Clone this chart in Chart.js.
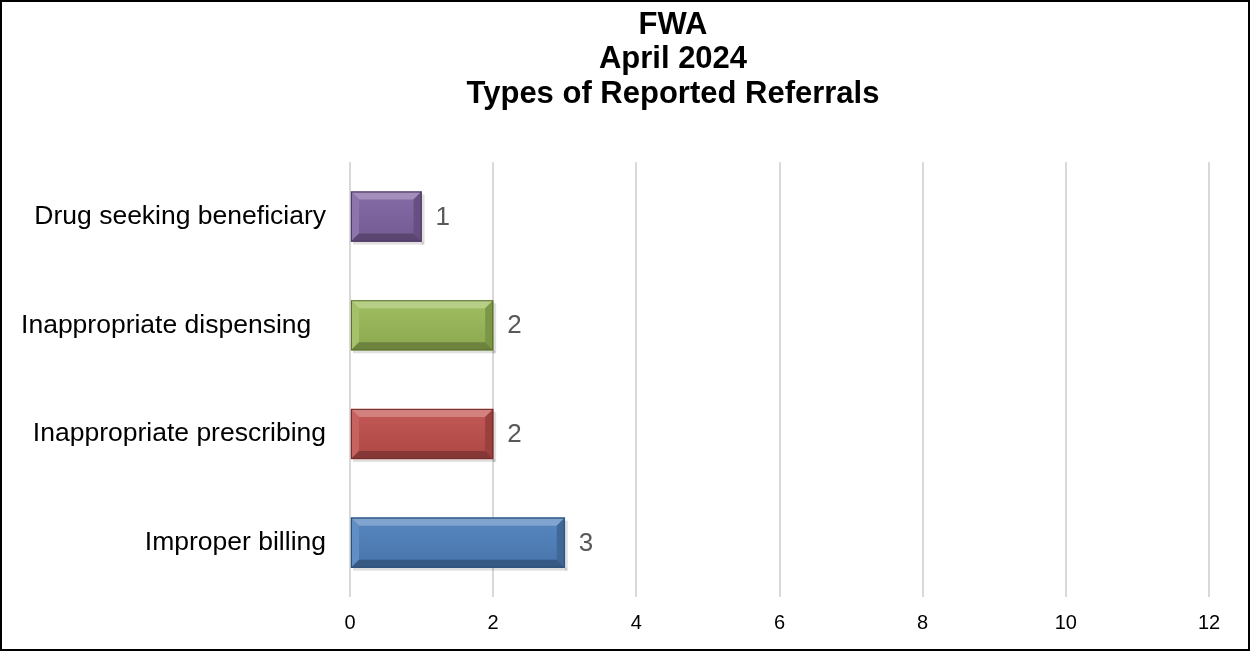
<!DOCTYPE html>
<html>
<head>
<meta charset="utf-8">
<script src="https://cdn.jsdelivr.net/npm/chart.js@4.4.1/dist/chart.umd.min.js"></script>
<style>
    html, body { margin: 0; padding: 0; background: #fff; }
    .frame {
        box-sizing: border-box;
        width: 1250px;
        height: 651px;
        border: 2px solid #000;
        position: relative;
    }
    .frame canvas { display: block; }
</style>
</head>
<body>
<div class="frame">
    <canvas id="fwaChart" width="1246" height="647"></canvas>
</div>
<script>
// Data
const categories = ['Drug seeking beneficiary', 'Inappropriate dispensing  ', 'Inappropriate prescribing', 'Improper billing'];
const referralCounts = [1, 2, 2, 3];
const barColors = ['#8064A2', '#9BBB59', '#C0504D', '#4F81BD'];
const titleLines = ['FWA', 'April 2024', 'Types of Reported Referrals'];
const xTickMax = 12;
const xTickStep = 2;

const FONT = "'Liberation Sans', Arial, sans-serif";

function shade(hex, amt) {
    const n = parseInt(hex.slice(1), 16);
    let r = (n >> 16) & 255, g = (n >> 8) & 255, b = n & 255;
    if (amt >= 0) {
        r = r + (255 - r) * amt; g = g + (255 - g) * amt; b = b + (255 - b) * amt;
    } else {
        r = r * (1 + amt); g = g * (1 + amt); b = b * (1 + amt);
    }
    return `rgb(${Math.round(r)}, ${Math.round(g)}, ${Math.round(b)})`;
}

// the title in the original sits a bit right of the page centre
const titleShift = {
    id: 'titleShift',
    afterLayout(chart) {
        const t = chart.titleBlock;
        if (!t) return;
        t.left = 96;
        t.right = chart.width;
        t.width = t.right - t.left;
    }
};

// bevel look for the bars, drawn over the bar elements' own geometry
const bevelPlugin = {
    id: 'bevel',
    afterDatasetDraw(chart, args) {
        const ctx = chart.ctx;
        args.meta.data.forEach((bar, i) => {
            const base = barColors[i];
            const left = Math.min(bar.base, bar.x), right = Math.max(bar.base, bar.x);
            const top = bar.y - bar.height / 2, bottom = bar.y + bar.height / 2;
            const b = 8;
            ctx.save();
            // soft shadow
            ctx.fillStyle = 'rgba(0,0,0,0.12)';
            ctx.fillRect(left + 2, bottom, right - left, 3);
            ctx.fillRect(right, top + 3, 3, bottom - top);
            // face
            const g = ctx.createLinearGradient(0, top, 0, bottom);
            g.addColorStop(0, shade(base, 0.05));
            g.addColorStop(1, shade(base, -0.1));
            ctx.fillStyle = g;
            ctx.fillRect(left, top, right - left, bottom - top);
            // top bevel
            ctx.fillStyle = shade(base, 0.28);
            ctx.beginPath();
            ctx.moveTo(left, top); ctx.lineTo(right, top);
            ctx.lineTo(right - b, top + b); ctx.lineTo(left + b, top + b);
            ctx.closePath(); ctx.fill();
            // left bevel
            ctx.fillStyle = shade(base, 0.1);
            ctx.beginPath();
            ctx.moveTo(left, top); ctx.lineTo(left + b, top + b);
            ctx.lineTo(left + b, bottom - b); ctx.lineTo(left, bottom);
            ctx.closePath(); ctx.fill();
            // right bevel
            ctx.fillStyle = shade(base, -0.2);
            ctx.beginPath();
            ctx.moveTo(right, top); ctx.lineTo(right - b, top + b);
            ctx.lineTo(right - b, bottom - b); ctx.lineTo(right, bottom);
            ctx.closePath(); ctx.fill();
            // bottom bevel
            ctx.fillStyle = shade(base, -0.3);
            ctx.beginPath();
            ctx.moveTo(left, bottom); ctx.lineTo(right, bottom);
            ctx.lineTo(right - b, bottom - b); ctx.lineTo(left + b, bottom - b);
            ctx.closePath(); ctx.fill();
            // outline
            ctx.strokeStyle = shade(base, -0.4);
            ctx.lineWidth = 1;
            ctx.strokeRect(left + 0.5, top + 0.5, right - left - 1, bottom - top - 1);
            ctx.restore();
        });
    }
};

// value labels to the right of each bar
const valueLabelPlugin = {
    id: 'valueLabels',
    afterDatasetsDraw(chart) {
        const ctx = chart.ctx;
        const meta = chart.getDatasetMeta(0);
        ctx.save();
        ctx.font = `26px ${FONT}`;
        ctx.fillStyle = '#595959';
        ctx.textAlign = 'left';
        ctx.textBaseline = 'middle';
        meta.data.forEach((bar, i) => {
            ctx.fillText(String(referralCounts[i]), bar.x + 14, bar.y + 1);
        });
        ctx.restore();
    }
};

const ctx = document.getElementById('fwaChart').getContext('2d');

new Chart(ctx, {
    type: 'bar',
    data: {
        labels: categories,
        datasets: [{
            data: referralCounts,
            backgroundColor: barColors,
            borderWidth: 0,
            barThickness: 50,
            borderSkipped: false
        }]
    },
    options: {
        indexAxis: 'y',
        responsive: false,
        animation: false,
        layout: {
            padding: { left: 0, right: 39, top: 0, bottom: 0 }
        },
        plugins: {
            legend: { display: false },
            tooltip: { enabled: false },
            title: {
                display: true,
                text: titleLines,
                color: '#000',
                font: { family: FONT, size: 31, weight: 'bold', lineHeight: 1.11 },
                padding: { top: 6, bottom: 51 }
            }
        },
        scales: {
            x: {
                min: 0,
                max: xTickMax,
                ticks: {
                    stepSize: xTickStep,
                    color: '#000',
                    font: { family: FONT, size: 20 },
                    padding: 14
                },
                grid: {
                    color: '#d9d9d9',
                    lineWidth: 2,
                    drawTicks: false
                },
                border: { display: false }
            },
            y: {
                ticks: {
                    color: '#000',
                    font: { family: FONT, size: 26.5 },
                    padding: 24
                },
                grid: { display: false, drawTicks: false },
                border: { display: false },
                afterFit(scale) {
                    scale.width = 348;
                }
            }
        }
    },
    plugins: [titleShift, bevelPlugin, valueLabelPlugin]
});
</script>
</body>
</html>
